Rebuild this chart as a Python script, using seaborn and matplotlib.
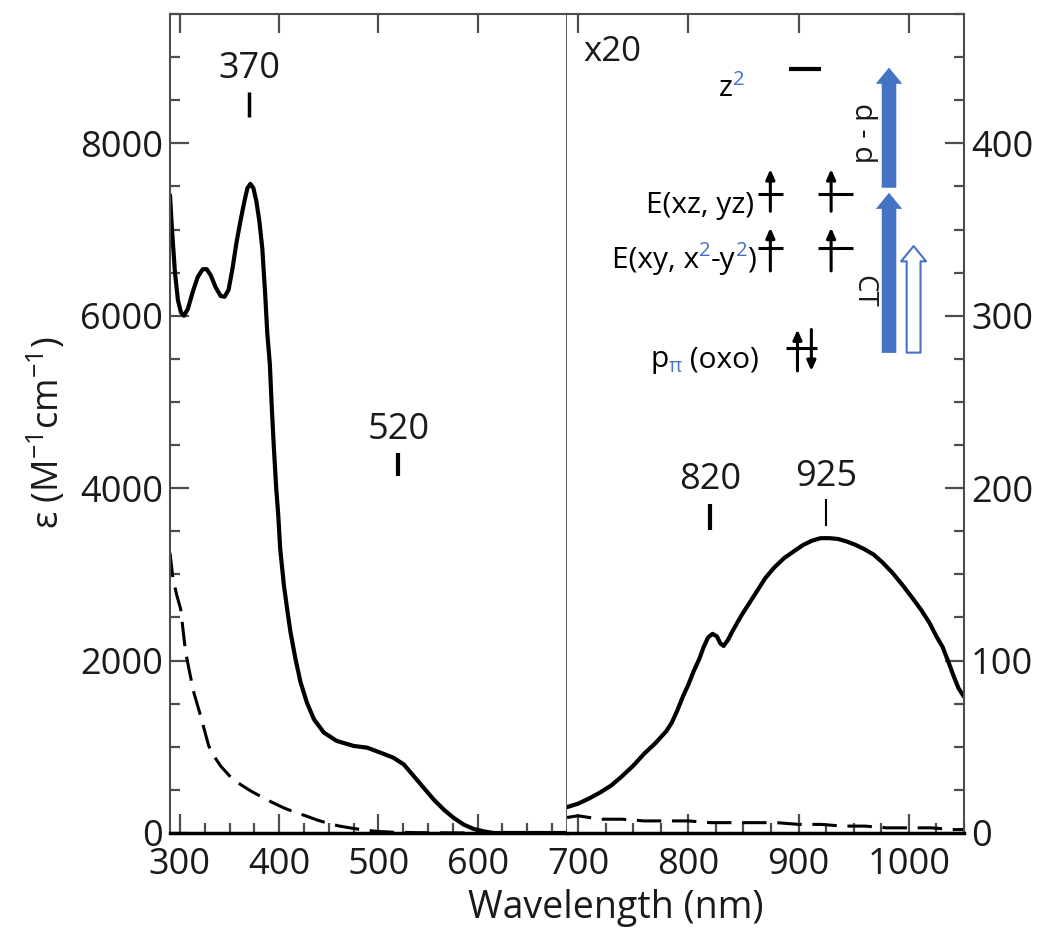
import matplotlib
matplotlib.use('Agg')
import matplotlib.pyplot as plt
import seaborn as sns
from matplotlib.ticker import MultipleLocator

# UV-vis 영역 (실선, 290-690 nm)
uv_wl = [290, 292, 295, 298, 301, 304, 308, 313, 318, 323, 327, 331, 336, 341, 345,
         349, 353, 357, 361, 365, 368, 371, 374, 377, 380, 383, 386, 388, 390.6, 392.5,
         394.6, 397, 399, 401, 404.7, 408, 411.4, 416.4, 421.5, 428, 435, 445, 458, 475,
         488.6, 502, 515, 525.5, 535.6, 545.6, 555.7, 565.8, 575.8, 586, 596, 606, 616,
         640, 660, 690]
uv_eps = [7400, 7000, 6500, 6180, 6040, 6000, 6080, 6280, 6450, 6540, 6540, 6470, 6330, 6230, 6220,
          6300, 6550, 6850, 7100, 7330, 7480, 7530, 7480, 7330, 7100, 6780, 6230, 5800, 5440, 4950,
          4480, 4000, 3700, 3300, 2880, 2600, 2330, 2020, 1750, 1510, 1320, 1165, 1068, 1010,
          990, 932, 874, 796, 660, 524, 388, 272, 175, 97, 47, 19, 0,
          0, 0, 0]

# UV-vis 영역 (점선)
uv_dash_wl = [290, 293, 297, 300.7, 305.7, 310, 314, 320.8, 329, 335, 341, 351, 361, 371, 381,
              393, 404.7, 416, 428, 438, 448, 460, 472, 485, 498.6, 515, 540, 580, 620, 690]
uv_dash_eps = [3250, 2950, 2750, 2600, 2100, 1850, 1630, 1360, 1010, 880, 777, 650, 563, 490, 427,
               355, 291, 240, 194, 152, 116, 82, 58, 36, 19, 9, 4, 1, 0, 0]

# NIR 영역 (x20 배율, 690-1050 nm)
nir_wl = [690, 700, 710, 720, 730, 740, 750, 760, 770, 780, 785, 790, 795, 800, 805,
          810, 814, 818, 822, 826, 829, 832, 836, 840, 848, 856, 863, 870, 878, 887,
          896, 904, 912, 920, 928, 936, 944, 952, 960, 968, 976, 985, 994, 1003, 1011,
          1018.6, 1025, 1030.5, 1036, 1040, 1045, 1050]
nir_x20 = [15, 17, 20, 23.5, 27.5, 33, 39, 46, 52, 59, 64, 71, 79, 86, 94,
           101, 108, 113.5, 115.5, 114, 110, 108.5, 112, 117, 126, 134, 141, 148, 154, 159.5,
           163.5, 167, 169.5, 171, 171, 170.5, 169, 167, 164.5, 161.5, 157, 151, 144, 136.5, 129.5,
           122, 114, 108, 99, 92, 84, 79]

nir_dash_wl = [690, 700, 720, 740, 760, 780, 800, 820, 840, 860, 880, 900, 920, 940, 960,
               980, 1000, 1020, 1040, 1050]
nir_dash_x20 = [9, 10, 8, 8, 7, 7, 7, 6, 6, 6, 6, 5, 5, 4, 4,
                3, 3, 3, 2, 2]

# 피크 표시
uv_peaks = [370, 520]
uv_peak_text_y = [8756, 4570]
uv_peak_bar = [(8300, 8600), (4140, 4410)]
uv_peak_lw = [2.5, 3.0]
nir_peaks = [820, 925]
nir_peak_text_y = [199.7, 201.4]
nir_peak_bar = [(176, 191), (178, 194)]
nir_peak_lw = [3.0, 1.5]

# 에너지 준위 다이어그램 라벨 (조각, 색, 0=보통 1=위첨자 -1=아래첨자)
blue = '#4472c4'
level_labels = [
    [('z', 'black', 0), ('2', blue, 1)],
    [('E(xz, yz)', 'black', 0)],
    [('E(xy, x', 'black', 0), ('2', blue, 1), ('-y', 'black', 0), ('2', blue, 1), (')', 'black', 0)],
    [('p', 'black', 0), ('π', blue, -1), (' (oxo)', 'black', 0)],
]
level_label_x = [851, 860, 861.5, 864]
level_label_y = [434, 359.6, 327.8, 270]

frame = '#4d4d4d'

sns.set_style('ticks')
plt.rcParams['font.family'] = ['Open Sans', 'DejaVu Sans']
plt.rcParams['mathtext.fontset'] = 'custom'
plt.rcParams['mathtext.rm'] = 'Open Sans'
plt.rcParams['mathtext.it'] = 'Open Sans:italic'
plt.rcParams['mathtext.bf'] = 'Open Sans:bold'
plt.rcParams['text.color'] = '#1a1a1a'

fig = plt.figure(figsize=(10.5, 9.4), dpi=100)
ax1 = fig.add_axes([170 / 1050, 107 / 940, 397 / 1050, 819 / 940])
ax2 = fig.add_axes([567 / 1050, 107 / 940, 397 / 1050, 819 / 940])

sns.lineplot(x=uv_wl, y=uv_eps, ax=ax1, color='black', lw=3, sort=False)
sns.lineplot(x=uv_dash_wl, y=uv_dash_eps, ax=ax1, color='black', lw=2.2, sort=False,
             linestyle=(0, (8, 3.5)))
sns.lineplot(x=nir_wl, y=nir_x20, ax=ax2, color='black', lw=3, sort=False)
sns.lineplot(x=nir_dash_wl, y=nir_dash_x20, ax=ax2, color='black', lw=2.2, sort=False,
             linestyle=(0, (8, 3.5)))

# 축 설정
ax1.set_xlim(290, 690)
ax1.set_ylim(0, 9500)
ax2.set_xlim(690, 1050)
ax2.set_ylim(0, 475)

for ax in (ax1, ax2):
    ax.xaxis.set_major_locator(MultipleLocator(100))
    ax.xaxis.set_minor_locator(MultipleLocator(25))
    ax.set_xlabel('')
    ax.set_ylabel('')
    ax.set_facecolor('white')
    for sp in ax.spines.values():
        sp.set_visible(True)
        sp.set_color(frame)
        sp.set_linewidth(1.5)
    ax.spines['bottom'].set_color('black')
    ax.spines['bottom'].set_linewidth(2.5)

ax1.yaxis.set_major_locator(MultipleLocator(2000))
ax1.yaxis.set_minor_locator(MultipleLocator(500))
ax2.yaxis.set_major_locator(MultipleLocator(100))
ax2.yaxis.set_minor_locator(MultipleLocator(25))
ax2.yaxis.tick_right()
ax2.spines['left'].set_visible(False)
ax1.spines['right'].set_linewidth(1.3)

ax1.tick_params(which='both', direction='in', left=True, right=False, top=True, bottom=True,
                color=frame, width=1.6, labelsize=26, labelcolor='#1a1a1a')
ax1.tick_params(axis='x', pad=10)
ax1.tick_params(axis='y', pad=5)
ax1.tick_params(which='major', length=14)
ax1.tick_params(which='minor', length=7, top=False)
ax2.tick_params(which='both', direction='in', left=False, right=True, top=True, bottom=True,
                labelleft=False, labelright=True, color=frame, width=1.6, labelsize=26,
                labelcolor='#1a1a1a')
ax2.tick_params(axis='x', pad=10)
ax2.tick_params(axis='y', pad=5)
ax2.tick_params(which='major', length=14)
ax2.tick_params(which='minor', length=7, top=False)

# 피크 라벨
for wl, ty, bar, lw in zip(uv_peaks, uv_peak_text_y, uv_peak_bar, uv_peak_lw):
    ax1.text(wl, ty, str(wl), ha='center', va='baseline', fontsize=26)
    ax1.plot([wl, wl], bar, color='black', lw=lw, solid_capstyle='butt')
for wl, ty, bar, lw in zip(nir_peaks, nir_peak_text_y, nir_peak_bar, nir_peak_lw):
    ax2.text(wl, ty, str(wl), ha='center', va='baseline', fontsize=26)
    ax2.plot([wl, wl], bar, color='black', lw=lw, solid_capstyle='butt')

ax2.text(704.5, 447.5, 'x20', ha='left', va='baseline', fontsize=25)


# 색이 섞인 라벨: 오른쪽 끝에서 왼쪽으로 이어 붙임
def color_label(ax, x, y, parts, fs):
    small = fs * 0.68
    desc = 0.27
    prev = None
    prev_kind = 0
    prev_fs = fs
    for s, c, kind in reversed(parts):
        size = small if kind else fs
        if prev is None:
            prev = ax.text(x, y, s, color=c, fontsize=size, ha='right', va='baseline')
        else:
            # 이전 조각 기준 baseline 차이 (points)
            shift_prev = {0: 0, 1: 0.36 * fs, -1: -0.18 * fs}[prev_kind]
            shift_cur = {0: 0, 1: 0.36 * fs, -1: -0.18 * fs}[kind]
            dy = (shift_cur - desc * size) - (shift_prev - desc * prev_fs)
            prev = ax.annotate(s, xy=(0, 0), xycoords=prev, xytext=(0, dy),
                               textcoords='offset points', color=c, fontsize=size,
                               ha='right', va='bottom')
        prev_kind = kind
        prev_fs = size


for parts, lx, ly in zip(level_labels, level_label_x, level_label_y):
    color_label(ax2, lx, ly, parts, 21.5)

# 준위선
ax2.plot([891, 920], [443, 443], color='black', lw=3, solid_capstyle='butt')
for y in (370.5, 339.4):
    ax2.plot([863, 885.5], [y, y], color='black', lw=2.2, solid_capstyle='butt')
    ax2.plot([918, 949.6], [y, y], color='black', lw=2.2, solid_capstyle='butt')
ax2.plot([888.5, 917], [281.5, 281.5], color='black', lw=2.2, solid_capstyle='butt')


def spin(ax, x, y0, y1):
    ax.annotate('', xy=(x, y1), xytext=(x, y0),
                arrowprops=dict(arrowstyle='-|>,head_length=0.45,head_width=0.2', lw=2.2,
                                color='black', shrinkA=0, shrinkB=0, mutation_scale=13))


for x in (874.4, 929.5):
    spin(ax2, x, 360.6, 385)
    spin(ax2, x, 326, 351)
spin(ax2, 899, 268, 292)
spin(ax2, 911.6, 292, 268)


def big_arrow(ax, x, y0, y1, fc, lw):
    ax.annotate('', xy=(x, y1), xytext=(x, y0),
                arrowprops=dict(arrowstyle='simple,head_length=1.1,head_width=1.8,tail_width=1.0',
                                fc=fc, ec=blue, lw=lw, shrinkA=0, shrinkB=0, mutation_scale=10))


big_arrow(ax2, 982, 374.5, 443.6, blue, 0.5)
big_arrow(ax2, 982, 278.6, 371, blue, 0.5)
big_arrow(ax2, 1004.3, 278.6, 340.4, 'white', 1.5)

ax2.text(958, 406, 'd - d', rotation=270, ha='center', va='center', fontsize=21)
ax2.text(959, 314, 'CT', rotation=270, ha='center', va='center', fontsize=20)

# 축 제목
fig.text(616 / 1050, 22 / 940, 'Wavelength (nm)', ha='center', va='baseline', fontsize=27)
fig.text(47 / 1050, 1 - 433 / 940, 'ε (M$^{-1}$cm$^{-1}$)', rotation=90,
         ha='center', va='center', fontsize=26)

fig.savefig('out.png', dpi=100, facecolor='white')
